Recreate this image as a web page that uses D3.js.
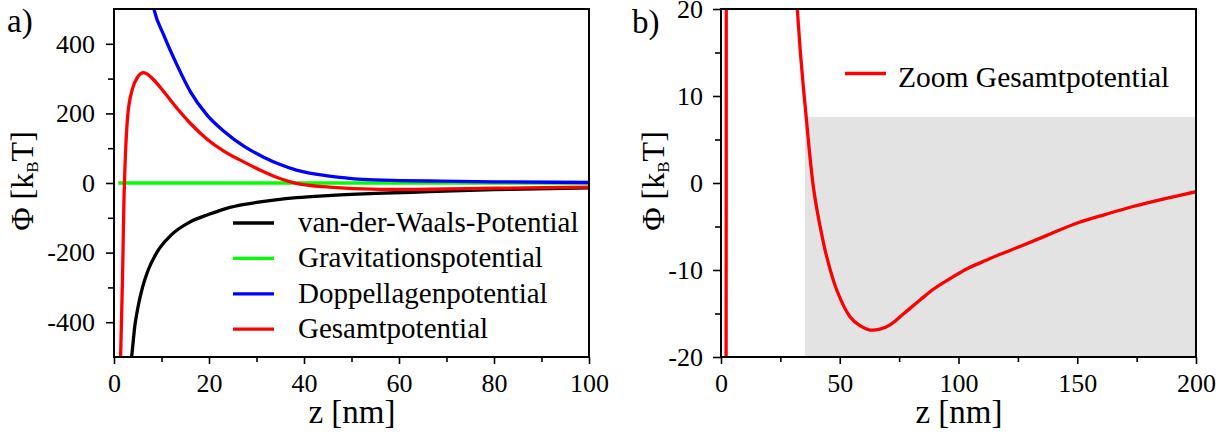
<!DOCTYPE html>
<html><head><meta charset="utf-8">
<script src="https://cdn.jsdelivr.net/npm/d3@7/dist/d3.min.js"></script>
</head>
<body style="margin:0">
<svg id="fig" width="1221" height="443"></svg>
<script>
// ---------- data ----------
// Panel a)
const vdwZ   = [3.6, 3.7, 4.4, 5, 6, 7, 9, 12, 16, 20, 24.4, 30, 38.4, 45, 55, 66.4, 80, 100];
const vdwPhi = [-510, -500, -409, -360, -300, -257, -200, -150, -112, -90, -70, -56, -42, -36, -30, -25, -19, -14];

const gravZ   = [0.9, 100];
const gravPhi = [0, 0];

const dlZ   = [8.0, 8.4, 10.5, 13.3, 16.1, 19.6, 23.2, 27.4, 31.4, 35, 38.4, 45.4, 52.4, 60, 66.4, 80, 100];
const dlPhi = [525, 500, 424, 338, 262, 195, 148, 105, 75, 53, 37, 20, 10.5, 7, 5.7, 3.5, 1.5];

const totZ   = [1.35, 1.8, 2.1, 2.2, 2.9, 3.9, 5.0, 6.2, 7.2, 8.4, 10.5, 13.3, 16.1, 19.6, 23.2, 27.4, 31.4, 34.9, 38.4, 45.4, 52.4, 60, 66.4, 80, 100];
const totPhi = [-520, -270, -48, 0, 195, 271, 305, 317, 311, 296, 262, 214, 171, 126, 91, 60, 33, 13, -1, -12, -17, -18.5, -18, -15, -12];

// Panel b) zoom of the total potential
const zoomZ   = [1.9, 2.1, 2.2, 2.9, 6.2, 20, 28, 32.13, 33.35, 34.53, 35.87, 37.6, 39.07, 41.47, 44.5, 48.72, 54.3, 58.5, 62.7, 66.9, 71.2, 77, 83.8, 90, 97.8, 104, 111.9, 117.5, 125.9, 137, 150, 162, 173.5, 187, 200];
const zoomPhi = [-200, -48, 0, 195, 317, 124, 34, 20, 15.29, 11.49, 7.59, 2.64, -0.80, -4.63, -8.47, -12.30, -15.37, -16.4, -16.9, -16.8, -16.3, -15.0, -13.45, -12.1, -10.77, -9.8, -8.85, -8.2, -7.3, -6.05, -4.6, -3.6, -2.7, -1.8, -1.0];

// ticks
const aXTicks = [0, 20, 40, 60, 80, 100];
const aXMinor = [10, 30, 50, 70, 90];
const aYTicks = [-400, -200, 0, 200, 400];
const aYMinor = [-300, -100, 100, 300];
const bXTicks = [0, 50, 100, 150, 200];
const bXMinor = [25, 75, 125, 175];
const bYTicks = [-20, -10, 0, 10, 20];
const bYMinor = [-15, -5, 5, 15];

// shaded zoom region in b)
const shadeZ = [35.4, 200];
const shadePhi = [-20, 7.6];

const legendA = ["van-der-Waals-Potential", "Gravitationspotential", "Doppellagenpotential", "Gesamtpotential"];
const legendB = ["Zoom Gesamtpotential"];

// ---------- drawing ----------
const FONT = `"Liberation Serif"`;
const svg = d3.select("#fig");
const plotTop = 9, plotBottom = 357;
const colors = {vdw:"#000000", grav:"#00ff00", dl:"#0000ff", tot:"#ff0000"};
const toPts = (zs, ps) => zs.map((z, i) => [z, ps[i]]);

function setFont(sel, size) {
  sel.style("font-family", FONT, "important").style("font-size", size + "px", "important").attr("fill", "#000");
  return sel;
}

function txt(x, y, size, s, anchor) {
  return setFont(svg.append("text").attr("x", x).attr("y", y)
    .attr("text-anchor", anchor || "start").text(s), size);
}

function panel(id, x0, x1, xDom, yDom) {
  const x = d3.scaleLinear().domain(xDom).range([x0, x1]);
  const y = d3.scaleLinear().domain(yDom).range([plotBottom, plotTop]);
  const g = svg.append("g");
  svg.append("clipPath").attr("id", id).append("rect")
    .attr("x", x0).attr("y", plotTop).attr("width", x1 - x0).attr("height", plotBottom - plotTop);
  const plot = g.append("g").attr("clip-path", `url(#${id})`);
  return {x, y, g, plot};
}

function axes(p, xt, xm, yt, ym, ypad) {
  const fmt = d => String(d);
  const xa = p.g.append("g").attr("transform", `translate(0,${plotBottom})`)
    .call(d3.axisBottom(p.x).tickValues(xt).tickSize(7).tickPadding(10).tickFormat(fmt));
  const xam = p.g.append("g").attr("transform", `translate(0,${plotBottom})`)
    .call(d3.axisBottom(p.x).tickValues(xm).tickSize(5).tickFormat(""));
  const ya = p.g.append("g").attr("transform", `translate(${p.x.range()[0]},0)`)
    .call(d3.axisLeft(p.y).tickValues(yt).tickSize(8).tickPadding(ypad).tickFormat(fmt));
  const yam = p.g.append("g").attr("transform", `translate(${p.x.range()[0]},0)`)
    .call(d3.axisLeft(p.y).tickValues(ym).tickSize(6).tickFormat(""));
  [xa, xam, ya, yam].forEach(a => {
    a.select(".domain").remove();
    a.attr("font-family", null).attr("font-size", null);
    a.selectAll("line").attr("stroke", "#000").attr("stroke-width", 1.6);
    setFont(a.selectAll("text"), 26);
  });
  p.g.append("rect").attr("x", p.x.range()[0]).attr("y", plotTop)
    .attr("width", p.x.range()[1] - p.x.range()[0]).attr("height", plotBottom - plotTop)
    .attr("fill", "none").attr("stroke", "#000").attr("stroke-width", 2);
}

function curve(p, pts, color, interp) {
  const line = d3.line().x(d => p.x(d[0])).y(d => p.y(d[1])).curve(interp || d3.curveMonotoneX);
  p.plot.append("path").datum(pts).attr("d", line)
    .attr("fill", "none").attr("stroke", color).attr("stroke-width", 3.3)
    .attr("stroke-linejoin", "round");
}

function yLabel(xPos, yPos) {
  const t = setFont(svg.append("text").attr("transform", `translate(${xPos},${yPos}) rotate(-90)`)
    .attr("text-anchor", "middle"), 32);
  t.append("tspan").text("Φ [k");
  t.append("tspan").style("font-size", "17px", "important").attr("dy", 5).text("B");
  t.append("tspan").attr("dy", -5).text("T]");
}

// Panel a
const A = panel("clipA", 114, 589, [0, 100], [-500, 500]);
curve(A, toPts(vdwZ, vdwPhi), colors.vdw);
curve(A, toPts(gravZ, gravPhi), colors.grav);
curve(A, toPts(dlZ, dlPhi), colors.dl);
curve(A, toPts(totZ, totPhi), colors.tot);
axes(A, aXTicks, aXMinor, aYTicks, aYMinor, 11);

const legColors = [colors.vdw, colors.grav, colors.dl, colors.tot];
legendA.forEach((name, i) => {
  const by = 232 + i * 35.4;
  svg.append("line").attr("x1", 233).attr("x2", 274).attr("y1", by - 9).attr("y2", by - 9)
    .attr("stroke", legColors[i]).attr("stroke-width", 3.3);
  txt(298, by, 29, name);
});

// Panel b
const B = panel("clipB", 721, 1196, [0, 200], [-20, 20]);
B.plot.append("rect")
  .attr("x", B.x(shadeZ[0])).attr("y", B.y(shadePhi[1]))
  .attr("width", B.x(shadeZ[1]) - B.x(shadeZ[0])).attr("height", B.y(shadePhi[0]) - B.y(shadePhi[1]))
  .attr("fill", "#e3e3e3");
curve(B, toPts(zoomZ, zoomPhi), colors.tot, d3.curveCatmullRom.alpha(0.5));
axes(B, bXTicks, bXMinor, bYTicks, bYMinor, 10);

svg.append("line").attr("x1", 845).attr("x2", 886).attr("y1", 73.5).attr("y2", 73.5)
  .attr("stroke", colors.tot).attr("stroke-width", 3.3);
txt(898, 87, 29.5, legendB[0]);

// axis titles
txt(352, 423, 33, "z [nm]", "middle");
txt(959, 423, 33, "z [nm]", "middle");
yLabel(33, 181);
yLabel(664, 181);

// panel letters
txt(7, 32, 33, "a)");
txt(632, 33, 33, "b)");
</script>
</body></html>
